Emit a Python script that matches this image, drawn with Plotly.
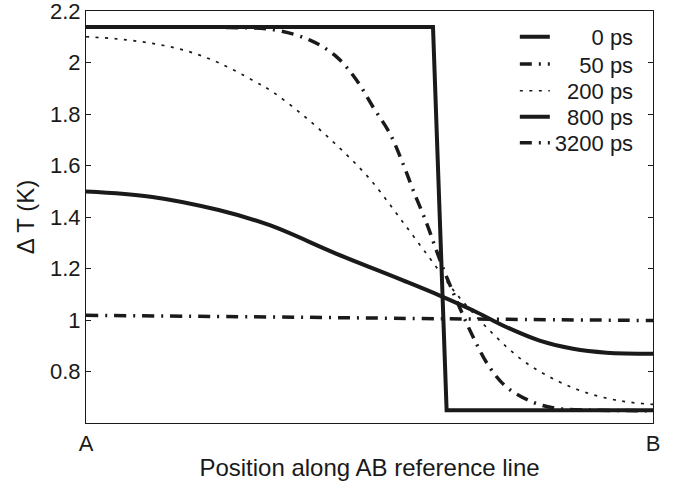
import plotly.graph_objects as go

# ---- data (x: fraction along A->B, y: Delta T in K)
x_0ps = [0.0, 0.612, 0.636, 1.0]
y_0ps = [2.138, 2.138, 0.650, 0.650]

x_50ps = [0.0, 0.15, 0.25, 0.329, 0.395, 0.442, 0.477, 0.506, 0.536, 0.559, 0.577,
          0.601, 0.618, 0.636, 0.683, 0.712, 0.742, 0.789, 0.830, 0.889, 1.0]
y_50ps = [2.138, 2.138, 2.136, 2.128, 2.087, 2.022, 1.932, 1.828, 1.724, 1.607, 1.504,
          1.374, 1.270, 1.167, 0.933, 0.816, 0.739, 0.680, 0.657, 0.650, 0.648]

x_200ps = [0.0, 0.057, 0.117, 0.176, 0.234, 0.293, 0.329, 0.383, 0.442, 0.500, 0.559,
           0.618, 0.653, 0.712, 0.771, 0.830, 0.889, 0.948, 1.0]
y_200ps = [2.100, 2.091, 2.074, 2.046, 1.999, 1.932, 1.886, 1.795, 1.679, 1.549, 1.380,
           1.205, 1.102, 0.959, 0.842, 0.765, 0.713, 0.684, 0.672]

x_800ps = [0.0, 0.117, 0.234, 0.324, 0.442, 0.559, 0.624, 0.683, 0.742, 0.800, 0.859, 0.918, 1.0]
y_800ps = [1.499, 1.478, 1.427, 1.368, 1.257, 1.154, 1.095, 1.037, 0.972, 0.920, 0.888, 0.873, 0.869]

x_3200ps = [0.0, 0.323, 0.619, 1.0]
y_3200ps = [1.018, 1.012, 1.005, 0.998]

series_names = ["0 ps", "50 ps", "200 ps", "800 ps", "3200 ps"]
y_tickvals = [0.8, 1.0, 1.2, 1.4, 1.6, 1.8, 2.0, 2.2]
y_ticktext = ["0.8", "1", "1.2", "1.4", "1.6", "1.8", "2", "2.2"]
x_tickvals = [0, 1]
x_ticktext = ["A", "B"]

FONT = "Liberation Sans, Arial, Helvetica, sans-serif"
INK = "#1a1a1a"
FS = "\u2007"  # figure space (digit width) to right-align legend text

def pad(name, width=7):
    return FS * (width - len(name)) + name

styles = [
    dict(color=INK, width=4, dash="solid"),
    dict(color=INK, width=3.5, dash="12px,7px,2px,7px"),
    dict(color=INK, width=1.7, dash="3px,6.5px"),
    dict(color=INK, width=4, dash="solid"),
    dict(color=INK, width=3.5, dash="12px,7px,2px,7px"),
]
shapes = ["linear", "spline", "spline", "spline", "spline"]
xs = [x_0ps, x_50ps, x_200ps, x_800ps, x_3200ps]
ys = [y_0ps, y_50ps, y_200ps, y_800ps, y_3200ps]
legend_ids = ["legend", "legend2", "legend3", "legend4", "legend5"]
legend_rows_y = [0.937, 0.871, 0.806, 0.743, 0.680]  # paper y of each legend row

fig = go.Figure()
for name, xv, yv, st, sh, lg in zip(series_names, xs, ys, styles, shapes, legend_ids):
    fig.add_trace(go.Scatter(x=xv, y=yv, mode="lines", name=pad(name),
                             line=dict(shape=sh, **st), legend=lg))

axis_common = dict(showgrid=False, zeroline=False, showline=True, linecolor=INK,
                   linewidth=1.2, mirror="ticks", ticks="inside", ticklen=5,
                   tickcolor=INK, tickwidth=1, automargin=False,
                   ticklabeloverflow="allow",
                   tickfont=dict(family=FONT, size=22, color=INK))

fig.update_layout(
    width=674, height=484,
    margin=dict(l=86, r=21, t=11, b=61),
    paper_bgcolor="white", plot_bgcolor="white",
    font=dict(family=FONT, color=INK),
    xaxis=dict(range=[0, 1], tickvals=x_tickvals, ticktext=x_ticktext,
               title=dict(text="Position along AB reference line",
                          font=dict(family=FONT, size=24, color=INK), standoff=4),
               **axis_common),
    yaxis=dict(range=[0.6, 2.2], tickvals=y_tickvals, ticktext=y_ticktext,
               title=dict(text="\u0394 T (K)", font=dict(family=FONT, size=24, color=INK),
                          standoff=8),
               **axis_common),
    showlegend=True,
)
legend_style = dict(x=0.975, xanchor="right", yanchor="middle",
                    bgcolor="rgba(0,0,0,0)", borderwidth=0,
                    font=dict(family=FONT, size=22, color=INK))
fig.update_layout({lg: dict(y=yy, **legend_style) for lg, yy in zip(legend_ids, legend_rows_y)})

# remove the browser's default 8px body margin so the figure sits at the window origin
fig.write_html("out.html", config={"displayModeBar": False},
               post_script="document.body.style.margin='0';")
